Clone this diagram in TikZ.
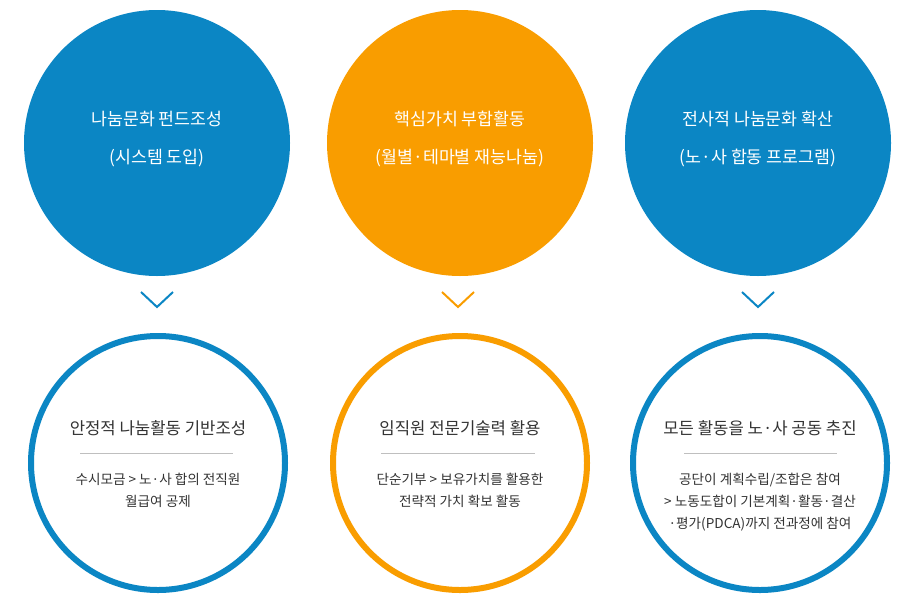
\documentclass[tikz,border=0pt]{standalone}
\usepackage{fontspec}
\setmainfont{Noto Sans CJK KR}
\begin{document}
\begin{tikzpicture}[x=1pt,y=-1pt]
\definecolor{cblue}{HTML}{0B86C4}
\definecolor{corange}{HTML}{F99D00}
\definecolor{ctext}{HTML}{333333}
\tikzset{
 topc/.style={circle,minimum size=266pt,inner sep=0pt},
 toptxt/.style={text=white,font=\fontsize{17.3}{38}\selectfont,align=center},
 botc/.style={circle,minimum size=254pt,inner sep=0pt,line width=6pt,fill=white},
 ttl/.style={text=ctext,font=\fontsize{16.7}{20}\selectfont},
 body/.style={text=ctext,font=\fontsize{13.6}{22}\selectfont,align=center},
 chev/.style={line width=2pt,line join=miter},
 sep/.style={draw=black!25,line width=0.6pt}
}
\useasboundingbox (0,0) rectangle (915,600);
\node[topc,fill=cblue] (t1) at (157,143) {};
\node[topc,fill=corange] (t2) at (460,143) {};
\node[topc,fill=cblue] (t3) at (758,143) {};
\node[toptxt] (x1) at (157,139) {나눔문화 펀드조성\\(시스템 도입)};
\node[toptxt] (x2) at (460,139) {핵심가치 부합활동\\(월별·테마별 재능나눔)};
\node[toptxt] (x3) at (758,139) {전사적 나눔문화 확산\\(노·사 합동 프로그램)};
\foreach \x/\c [count=\i] in {157/cblue,458/corange,758/cblue}{
 \coordinate (ca\i) at (\x-16,292);
 \coordinate (cb\i) at (\x,307);
 \coordinate (cc\i) at (\x+16,292);
 \draw[chev,\c] (ca\i) -- (cb\i) -- (cc\i);
}
\node[botc,draw=cblue] (b1) at (158,463) {};
\node[botc,draw=corange] (b2) at (460,463) {};
\node[botc,draw=cblue] (b3) at (760,463) {};
\node[ttl] (h1) at (158,428) {안정적 나눔활동 기반조성};
\node[ttl] (h2) at (460,428) {임직원 전문기술력 활용};
\node[ttl] (h3) at (760,428) {모든 활동을 노·사 공동 추진};
\coordinate (l1a) at (80,453); \coordinate (l1b) at (233,453);
\coordinate (l2a) at (381,453); \coordinate (l2b) at (535,453);
\coordinate (l3a) at (684,453); \coordinate (l3b) at (837,453);
\draw[sep] (l1a) -- (l1b); \draw[sep] (l2a) -- (l2b); \draw[sep] (l3a) -- (l3b);
\node[body,anchor=north] (d1) at (158,470) {수시모금 > 노·사 합의 전직원\\월급여 공제};
\node[body,anchor=north] (d2) at (460,470) {단순기부 > 보유가치를 활용한\\전략적 가치 확보 활동};
\node[body,anchor=north] (d3) at (760,470) {공단이 계획수립/조합은 참여\\> 노동도합이 기본계획·활동·결산\\·평가(PDCA)까지 전과정에 참여};
\end{tikzpicture}
\end{document}
